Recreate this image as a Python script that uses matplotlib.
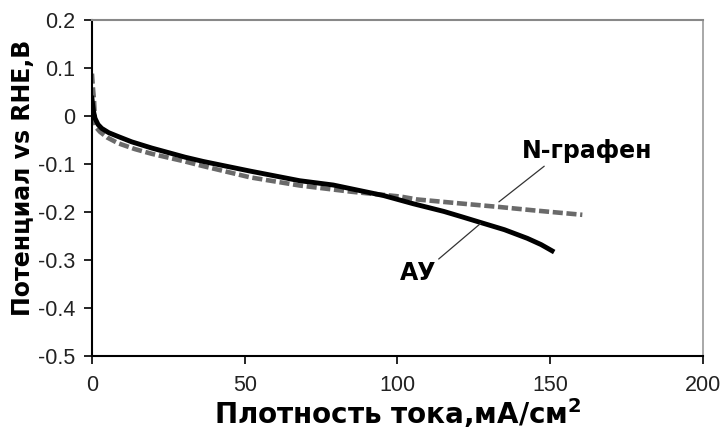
import matplotlib
matplotlib.use("Agg")
import matplotlib.pyplot as plt

# Data
au_x = [0, 0.2, 0.5, 1.0, 2, 3.2, 5.5, 8.6, 13, 19.6, 30.5, 36.5, 51.8, 68, 79,
        95.5, 105.2, 115.2, 121, 127.2, 135, 142.5, 147, 150.6]
au_y = [0.037, 0.025, 0.01, -0.005, -0.018, -0.026, -0.035, -0.043, -0.054, -0.067,
        -0.086, -0.095, -0.115, -0.135, -0.144, -0.166, -0.183, -0.199, -0.21,
        -0.222, -0.237, -0.255, -0.268, -0.281]

ng_x = [0, 0.3, 0.7, 1.0, 1.5, 2.6, 5, 8.6, 14, 19.6, 30.5, 36, 51.8, 68, 85,
        101, 106.4, 120, 133.8, 145, 160.5]
ng_y = [0.088, 0.06, 0.03, -0.015, -0.025, -0.033, -0.045, -0.057, -0.069, -0.079,
        -0.095, -0.104, -0.128, -0.145, -0.158, -0.168, -0.174, -0.182, -0.19,
        -0.197, -0.206]

x_ticks = [0, 50, 100, 150, 200]
y_ticks = [0.2, 0.1, 0, -0.1, -0.2, -0.3, -0.4, -0.5]
y_tick_labels = ["0.2", "0.1", "0", "-0.1", "-0.2", "-0.3", "-0.4", "-0.5"]

label_au = "АУ"
label_ng = "N-графен"
xlabel = "Плотность тока,мА/см$^{\\mathbf{2}}$"
ylabel = "Потенциал vs RHE,B"

fig = plt.figure(figsize=(7.24, 4.32), dpi=100)
ax = fig.add_axes([0.127, 0.176, 0.844, 0.778])

ax.plot(ng_x, ng_y, color="#6a6a6a", lw=3.3, dashes=(2.2, 0.8), solid_capstyle="butt")
ax.plot(au_x, au_y, color="black", lw=3.5)

ax.set_xlim(0, 200)
ax.set_ylim(-0.5, 0.2)
ax.set_xticks(x_ticks)
ax.set_xticklabels([str(t) for t in x_ticks])
ax.set_yticks(y_ticks)
ax.set_yticklabels(y_tick_labels)

for lab in ax.get_xticklabels() + ax.get_yticklabels():
    lab.set_fontfamily("Liberation Sans")
    lab.set_fontsize(15.5)
    lab.set_color("#222222")

ax.tick_params(direction="out", length=6, width=1.2, color="black", pad=6)
ax.tick_params(axis="x", pad=8)

for s in ["left", "bottom"]:
    ax.spines[s].set_color("black")
    ax.spines[s].set_linewidth(1.5)
ax.spines["top"].set_color("#888888")
ax.spines["top"].set_linewidth(1.5)
ax.spines["right"].set_color("#999999")
ax.spines["right"].set_linewidth(1.2)

ax.set_xlabel(xlabel, family="DejaVu Sans", fontweight="bold", fontsize=20, labelpad=0)
ax.set_ylabel(ylabel, family="DejaVu Sans", fontweight="bold", fontsize=17)
ax.yaxis.set_label_coords(-0.093, 0.53)

# Annotations
ax.annotate(label_ng, xy=(133.2, -0.179), xytext=(162, -0.074),
            fontsize=17, fontweight="bold", family="DejaVu Sans",
            ha="center", va="center",
            arrowprops=dict(arrowstyle="-", color="#333333", lw=0.9,
                            shrinkA=0, shrinkB=0,
                            relpos=(0.2, 0.0)))
ax.annotate(label_au, xy=(127.2, -0.224), xytext=(106.6, -0.328),
            fontsize=17, fontweight="bold", family="DejaVu Sans",
            ha="center", va="center",
            arrowprops=dict(arrowstyle="-", color="#333333", lw=0.9,
                            shrinkA=0, shrinkB=0,
                            relpos=(1.0, 1.0)))

fig.savefig("out.png", dpi=100)
